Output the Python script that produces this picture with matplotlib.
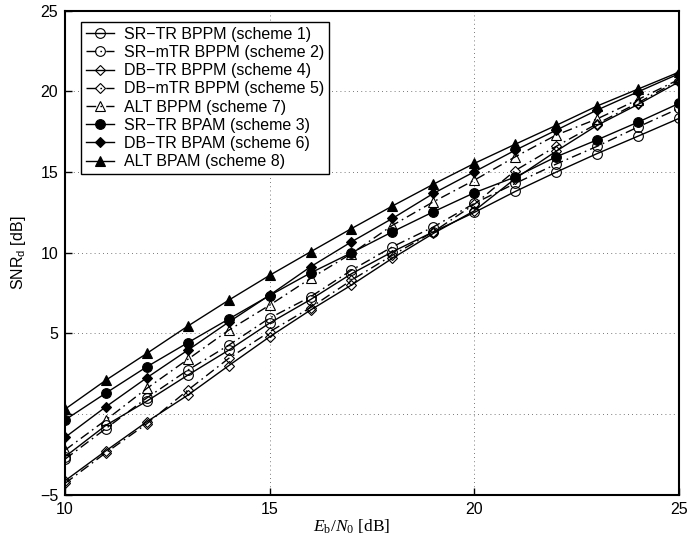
import matplotlib
matplotlib.use("Agg")
from matplotlib import pyplot as plt

plt.rcParams['font.family'] = ['Liberation Sans', 'DejaVu Sans']
plt.rcParams['mathtext.fontset'] = 'custom'
plt.rcParams['mathtext.rm'] = 'Liberation Serif'
plt.rcParams['mathtext.it'] = 'Liberation Serif:italic'
plt.rcParams['mathtext.sf'] = 'Liberation Sans'

ebn0 = [10, 11, 12, 13, 14, 15, 16, 17, 18, 19, 20, 21, 22, 23, 24, 25]

sr_tr_bppm = [-2.65, -0.7, 0.8, 2.41, 3.96, 5.64, 7.1, 8.7, 10.06, 11.3, 12.5, 13.8, 15.0, 16.15, 17.23, 18.33]
sr_mtr_bppm = [-2.8, -0.9, 1.0, 2.72, 4.27, 5.95, 7.27, 8.92, 10.37, 11.6, 13.06, 14.3, 15.5, 16.6, 17.8, 18.95]
db_tr_bppm = [-4.14, -2.28, -0.48, 1.17, 3.0, 4.79, 6.45, 8.0, 9.66, 11.2, 12.6, 14.6, 16.3, 17.9, 19.2, 20.6]
db_mtr_bppm = [-4.3, -2.4, -0.6, 1.48, 3.45, 5.1, 6.6, 8.3, 9.85, 11.3, 13.0, 15.1, 16.6, 18.0, 19.3, 20.7]
alt_bppm = [-2.24, -0.37, 1.59, 3.39, 5.2, 6.75, 8.41, 9.95, 11.7, 13.16, 14.5, 15.95, 17.3, 18.3, 19.5, 20.75]
sr_tr_bpam = [-0.37, 1.3, 2.93, 4.42, 5.89, 7.35, 8.75, 10.0, 11.3, 12.54, 13.72, 14.7, 15.95, 17.0, 18.1, 19.26]
db_tr_bpam = [-1.45, 0.45, 2.25, 3.96, 5.7, 7.37, 9.13, 10.68, 12.13, 13.68, 15.02, 16.36, 17.6, 18.85, 19.98, 21.1]
alt_bpam = [0.3, 2.1, 3.76, 5.45, 7.06, 8.6, 10.06, 11.5, 12.9, 14.25, 15.54, 16.73, 17.9, 19.1, 20.15, 21.2]

labels = ['SR\u2212TR BPPM (scheme 1)', 'SR\u2212mTR BPPM (scheme 2)',
          'DB\u2212TR BPPM (scheme 4)', 'DB\u2212mTR BPPM (scheme 5)',
          'ALT BPPM (scheme 7)', 'SR\u2212TR BPAM (scheme 3)',
          'DB\u2212TR BPAM (scheme 6)', 'ALT BPAM (scheme 8)']

yticks = [-5, 0, 5, 10, 15, 20, 25]
yticklabels = ['\u22125', '', '5', '10', '15', '20', '25']
xticks = [10, 15, 20, 25]

dashdot = (0, (7, 3, 1.2, 3))

fig = plt.figure(figsize=(6.91, 5.43), dpi=100)
ax = fig.add_axes([0.094, 0.089, 0.8886, 0.891])

series = [sr_tr_bppm, sr_mtr_bppm, db_tr_bppm, db_mtr_bppm, alt_bppm,
          sr_tr_bpam, db_tr_bpam, alt_bpam]
markers = ['o', 'o', 'D', 'D', '^', 'o', 'D', '^']
styles = ['-', dashdot, '-', dashdot, dashdot, '-', '-', '-']
filled = [False, False, False, False, False, True, True, True]
msizes = [7, 7, 5.5, 5.5, 7, 7, 5.5, 7]

for ys, m, ls, f, ms, lab in zip(series, markers, styles, filled, msizes, labels):
    ax.plot(ebn0, ys, color='black', linestyle=ls, linewidth=1.0,
            marker=m, markersize=ms,
            markerfacecolor='black' if f else 'none',
            markeredgecolor='black', markeredgewidth=0.8, label=lab)

ax.set_xlim(10, 25)
ax.set_ylim(-5, 25)
ax.set_xticks(xticks)
ax.set_yticks(yticks)
ax.set_yticklabels(yticklabels)
ax.tick_params(direction='in', labelsize=11.5, length=5, width=1.0, pad=5)
ax.grid(True, linestyle=(0, (1, 4)), color='black', linewidth=0.6, alpha=0.7)
for s in ax.spines.values():
    s.set_linewidth(1.5)

ax.set_xlabel(r'$E_\mathrm{b}/N_0$ [dB]', family='Liberation Serif', fontsize=12.5)
ax.xaxis.set_label_coords(0.467, -0.048)
ax.set_ylabel(r'SNR$_\mathsf{d}$ [dB]', fontsize=11.5)
ax.yaxis.set_label_coords(-0.06, 0.5)

leg = ax.legend(loc='upper left', bbox_to_anchor=(0.026, 0.977), borderaxespad=0,
                fontsize=11.5, labelspacing=0.2, handlelength=1.8, handletextpad=0.6,
                borderpad=0.3, fancybox=False, framealpha=1, edgecolor='black')
leg.get_frame().set_linewidth(1.0)

fig.savefig('out.png', dpi=100)
